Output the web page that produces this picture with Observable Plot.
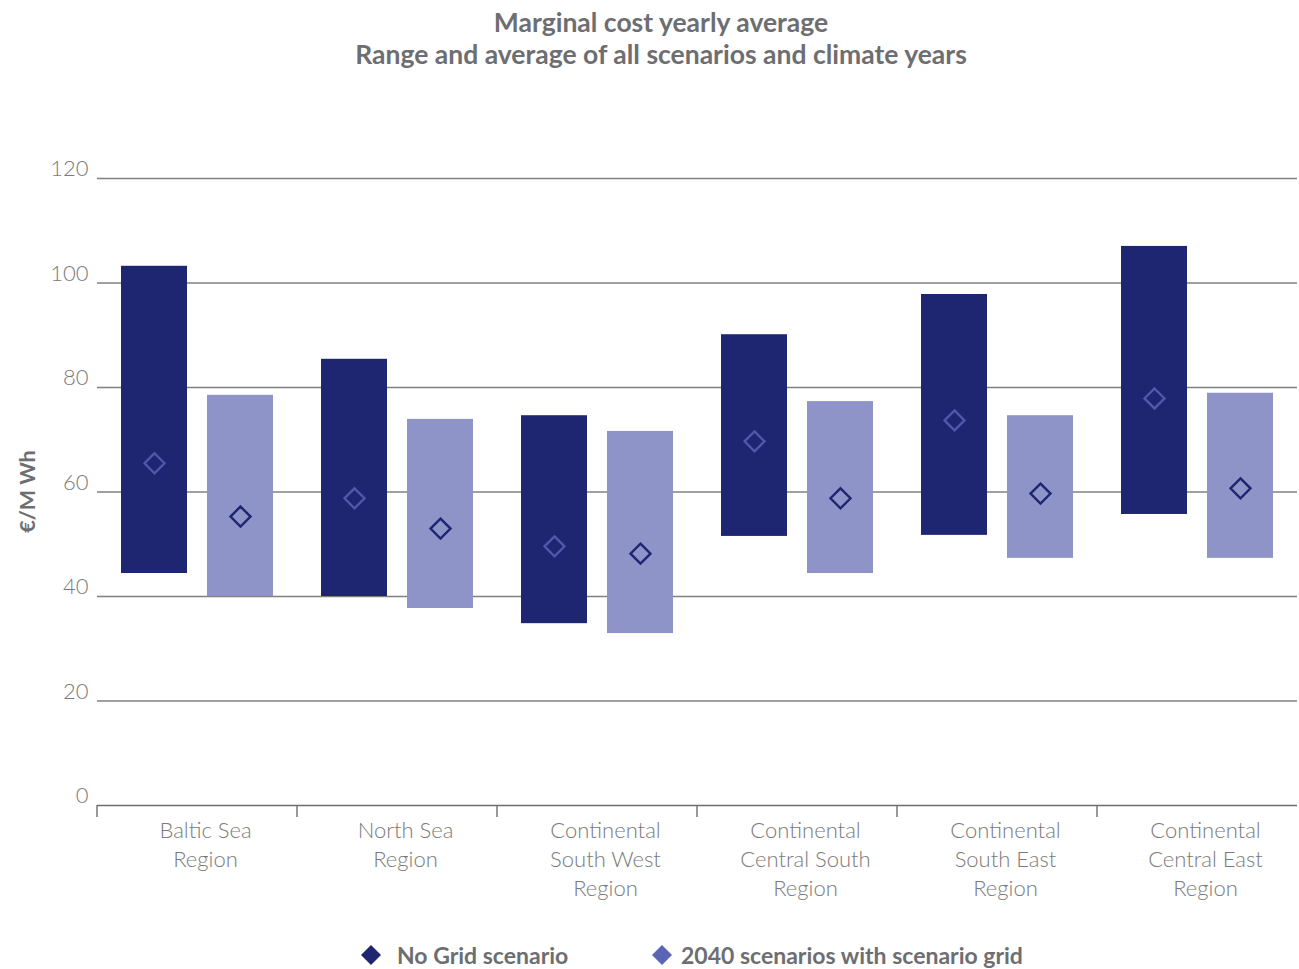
<!DOCTYPE html>
<html>
<head>
<meta charset="utf-8">
<script src="https://cdn.jsdelivr.net/npm/d3@7"></script>
<script src="https://cdn.jsdelivr.net/npm/@observablehq/plot@0.6"></script>
<style>
  html, body { margin: 0; padding: 0; background: #ffffff; }
  #wrap { position: relative; width: 1299px; height: 969px; overflow: hidden; }
  #title { position: absolute; left: 0; width: 1322px; top: 6px; text-align: center;
    font-family: Lato, "Open Sans", sans-serif; font-weight: 700;
    font-size: 26.5px; line-height: 32px; color: #6d6e71; }
  #legend { position: absolute; top: 941px; left: 0; width: 1299px; height: 30px;
    font-family: Lato, "Open Sans", sans-serif; font-weight: 700;
    font-size: 23px; color: #6d6e71; }
  .li { position: absolute; top: 0; display: flex; align-items: center; height: 28px; }
  #chart { position: absolute; left: 0; top: 0; }
</style>
</head>
<body>
<div id="wrap">
  <div id="chart"></div>
  <div id="title">Marginal cost yearly average<br>Range and average of all scenarios and climate years</div>
  <div id="legend"></div>
</div>
<script>
// ---- data ----
const regions = [
  "Baltic Sea\nRegion",
  "North Sea\nRegion",
  "Continental\nSouth West\nRegion",
  "Continental\nCentral South\nRegion",
  "Continental\nSouth East\nRegion",
  "Continental\nCentral East\nRegion"
];
const series = ["No Grid scenario", "2040 scenarios with scenario grid"];
const noGridMin = [44.4, 40.0, 34.8, 51.5, 51.7, 55.7];
const noGridMax = [103.2, 85.4, 74.6, 90.1, 97.8, 107.0];
const noGridAvg = [65.5, 58.8, 49.6, 69.7, 73.7, 77.9];
const gridMin = [40.0, 37.7, 32.9, 44.4, 47.3, 47.3];
const gridMax = [78.5, 73.9, 71.6, 77.3, 74.6, 78.9];
const gridAvg = [55.3, 53.0, 48.2, 58.8, 59.7, 60.7];
const yTicks = [0, 20, 40, 60, 80, 100, 120];
const yLabel = "€/M Wh";

const barColors = ["#1e2571", "#8e93c8"];
const diamondStroke = ["#5058aa", "#1e2571"];
const legendColors = ["#1e2571", "#5b65b5"];

const data = regions.flatMap((r, i) => [
  {region: r, series: series[0], lo: noGridMin[i], hi: noGridMax[i], avg: noGridAvg[i]},
  {region: r, series: series[1], lo: gridMin[i], hi: gridMax[i], avg: gridAvg[i]}
]);

const labelFont = "Lato, 'Open Sans', sans-serif";

const plot = Plot.plot({
  width: 1299,
  height: 969,
  marginTop: 178,
  marginBottom: 164,
  marginLeft: 94,
  marginRight: 0,
  style: {fontFamily: labelFont, color: "#7a7a7a", background: "white"},
  fx: {domain: regions, padding: 0, axis: null},
  x: {domain: series, paddingInner: 0.23, paddingOuter: 0.267, axis: null},
  y: {domain: [0, 120], ticks: yTicks, tickSize: 0, tickPadding: 9, label: null},
  color: {domain: series, range: barColors},
  marks: [
    Plot.ruleY(yTicks.filter(d => d > 0), {stroke: "#808080", strokeWidth: 1.4}),
    Plot.barY(data, {fx: "region", x: "series", y1: "lo", y2: "hi", fill: "series"}),
    Plot.dot(data, {fx: "region", x: "series", y: "avg", symbol: "diamond2", r: 9,
      fill: "none", strokeWidth: 2.4,
      stroke: d => diamondStroke[series.indexOf(d.series)]}),
    Plot.ruleY([0], {stroke: "#6d6e71", strokeWidth: 1.4}),
    Plot.text(regions, {fx: d => d, text: d => d, frameAnchor: "bottom", lineAnchor: "top",
      dy: 12, dx: 8, lineHeight: 1.32, fontSize: 22, fill: "#7a7a7a", fontWeight: 300})
  ]
});

// y tick labels styling
d3.select(plot).selectAll("g[aria-label='y-axis tick label'] text, g[aria-label='y-axis'] text")
  .attr("font-size", 22).attr("dy", "-0.05em").attr("fill", "#7a7a7a").attr("font-weight", 300)
  .attr("transform", function () {
    const t = d3.select(this).attr("transform") || "";
    return t + " translate(0,-8)";
  });

// facet boundary ticks on the x axis line using the fx scale
const fx = plot.scale("fx");
const yS = plot.scale("y");
const svg = d3.select(plot);
const y0 = yS.apply(0);
svg.append("g").selectAll("line").data(regions).join("line")
  .attr("x1", d => fx.apply(d)).attr("x2", d => fx.apply(d))
  .attr("y1", y0).attr("y2", y0 + 12)
  .attr("stroke", "#6d6e71").attr("stroke-width", 1.4);

// y axis title
svg.append("text")
  .attr("transform", `translate(35, ${(yS.apply(120) + yS.apply(0)) / 2}) rotate(-90)`)
  .attr("text-anchor", "middle")
  .attr("font-family", labelFont)
  .attr("font-weight", 700).attr("font-size", 21.5).attr("fill", "#6d6e71")
  .text(yLabel);

document.getElementById("chart").appendChild(plot);

// legend
const legend = d3.select("#legend");
const legendX = [360, 651];
const legendGap = [15, 8];
series.forEach((s, i) => {
  const item = legend.append("div").attr("class", "li").style("left", legendX[i] + "px");
  const sv = item.append("svg").attr("width", 22).attr("height", 22).style("margin-right", legendGap[i] + "px");
  sv.append("path").attr("d", "M11,1 L21,11 L11,21 L1,11 Z").attr("fill", legendColors[i]);
  item.append("span").text(s);
});
</script>
</body>
</html>
